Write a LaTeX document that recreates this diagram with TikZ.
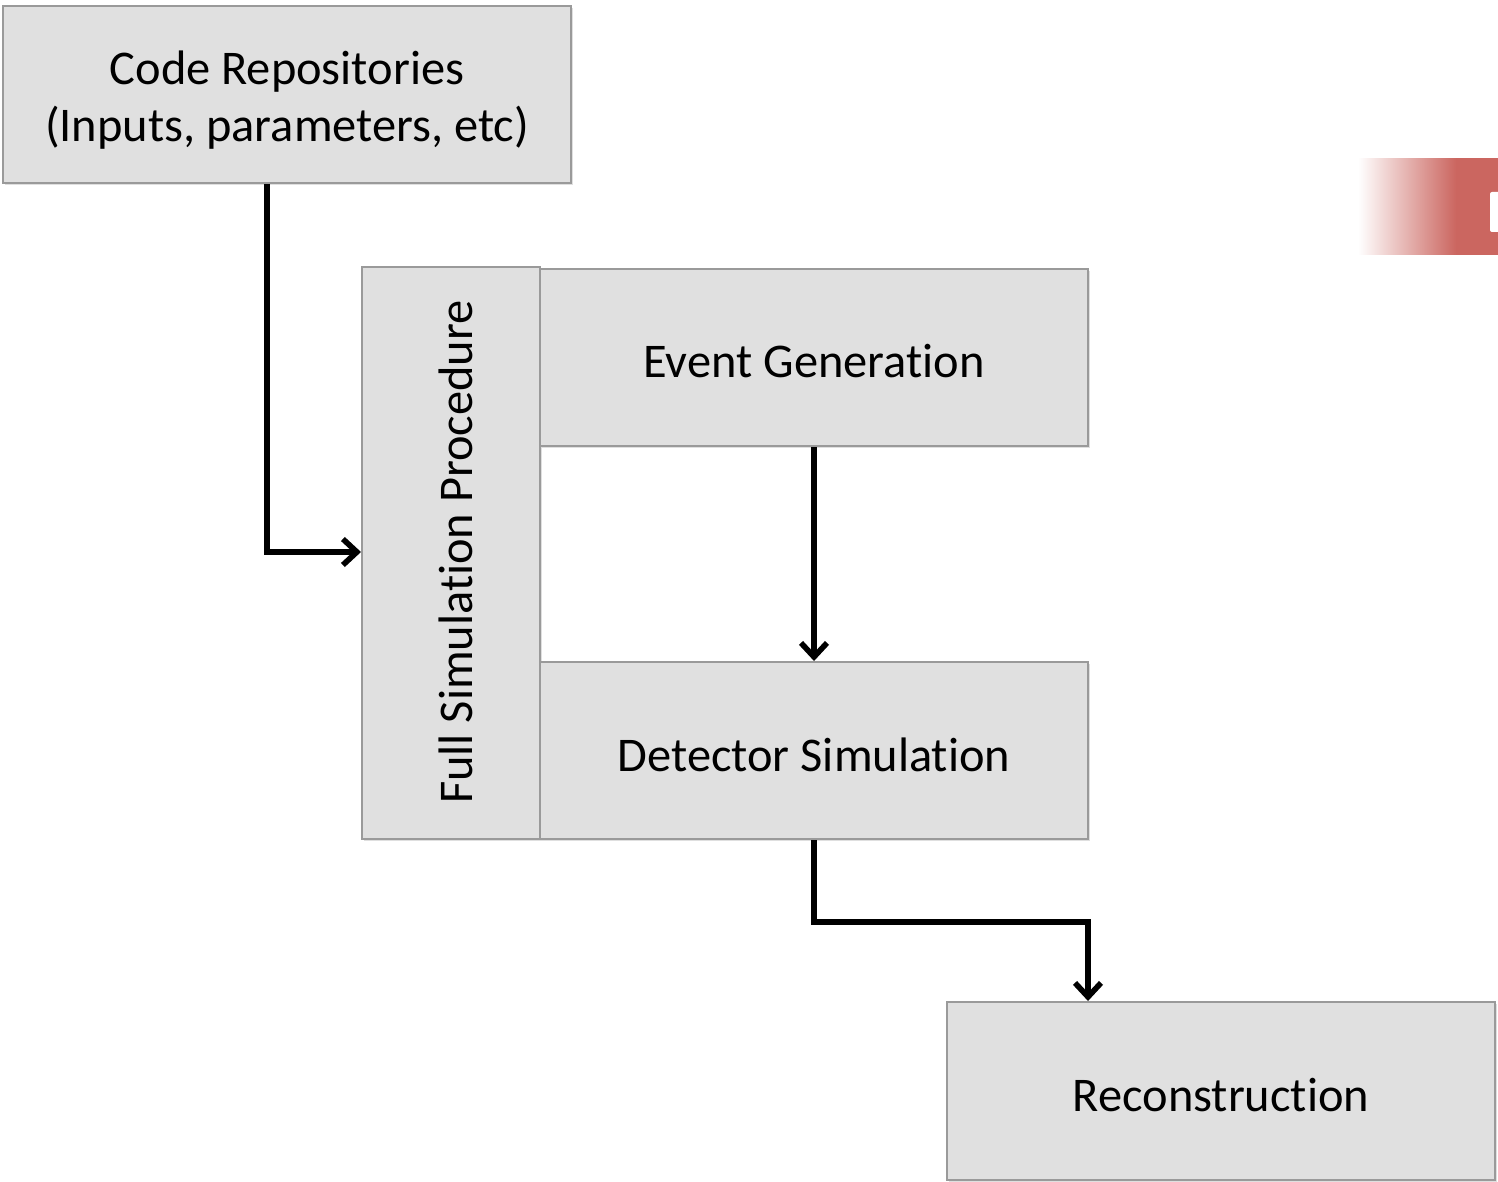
\documentclass[tikz,border=0pt]{standalone}
\usepackage{fontspec}
\setmainfont[Ligatures={NoCommon,TeX}]{Carlito}
\usetikzlibrary{arrows.meta,shadows}
\definecolor{boxfill}{HTML}{E0E0E0}
\definecolor{boxline}{HTML}{9A9A9A}
\definecolor{redbar}{HTML}{CB6660}
\pgfdeclarehorizontalshading{redfade}{100bp}{color(0bp)=(white); color(25bp)=(white); color(60bp)=(redbar); color(100bp)=(redbar)}
\begin{document}
\begin{tikzpicture}[x=0.5pt,y=-0.5pt,
  box/.style={draw=boxline,fill=boxfill,line width=1pt,inner sep=0pt,
    drop shadow={shadow xshift=1.2pt,shadow yshift=-1.2pt,opacity=0.25},
    font=\fontsize{24.2}{28.5}\selectfont,align=center},
  lbl/.style={font=\fontsize{24.2}{28.5}\selectfont,align=center,inner sep=0pt},
  conn/.style={line width=2.8pt,-{Straight Barb[length=7pt,width=13pt,line width=2.8pt]}}]
\useasboundingbox (0,0) rectangle (1498,1182);
% red gradient decoration
\shade[shading=redfade] (1358,159) rectangle (1498,255);
\fill[white,rounded corners=1pt] (1490,192) rectangle (1500,232);
% boxes
\node[box,minimum width=284pt,minimum height=88.5pt] (code) at (287,94.5) {};
\node[lbl] (codetext) at (287,100) {Code Repositories\\(Inputs, parameters, etc)};
\node[box,minimum width=89pt,minimum height=286pt] (full) at (451,553) {};
\node[lbl,rotate=90] (fulltext) at (456,552) {Full Simulation Procedure};
\node[box,minimum width=274pt,minimum height=88.5pt] (event) at (814,357.5) {};
\node[lbl] (eventtext) at (814,361) {Event Generation};
\node[box,minimum width=274pt,minimum height=88.5pt] (det) at (814,750.5) {};
\node[lbl] (dettext) at (814,755) {Detector Simulation};
\node[box,minimum width=274pt,minimum height=89pt] (reco) at (1221,1091) {};
\node[lbl] (recotext) at (1221,1095) {Reconstruction};
% connectors
\coordinate (c1) at (267,552);
\draw[conn] (code.south -| c1) -- (c1) -- (full.west |- c1);
\draw[conn] (event.south) -- (det.north);
\coordinate (c2) at (814,922);
\coordinate (c3) at (1088,922);
\draw[conn] (det.south) -- (c2) -- (c3) -- (reco.north -| c3);
\end{tikzpicture}
\end{document}
